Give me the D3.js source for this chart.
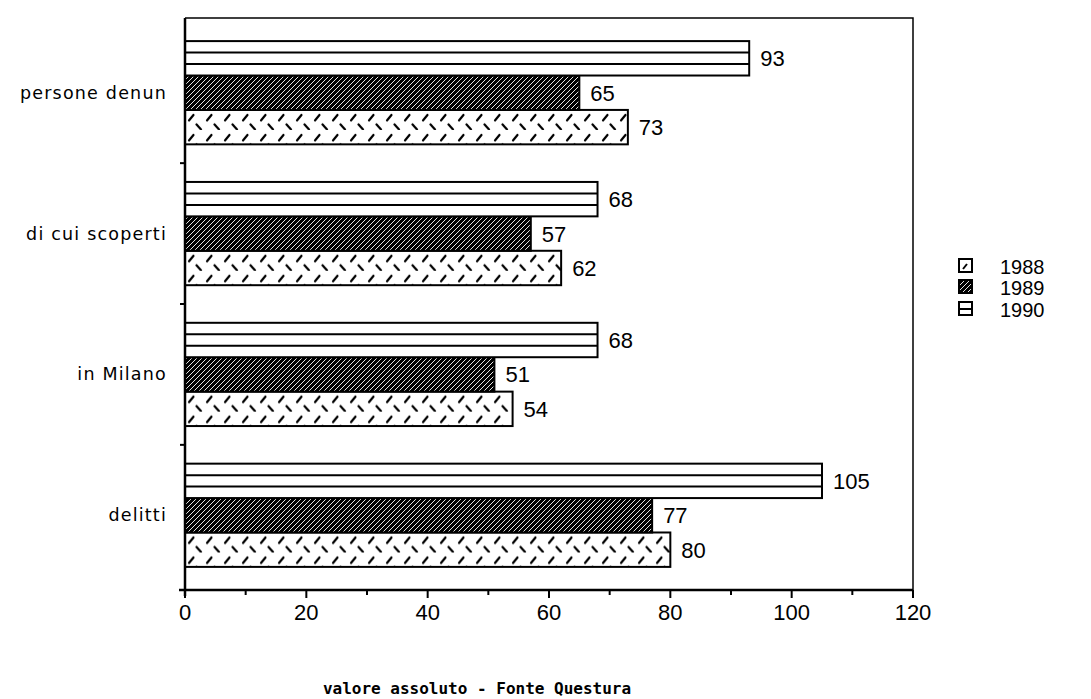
<!DOCTYPE html>
<html>
<head>
<meta charset="utf-8">
<script src="https://cdn.jsdelivr.net/npm/d3@7"></script>
<style>
  html, body { margin: 0; padding: 0; background: #fff; }
  svg { display: block; }
</style>
</head>
<body>
<svg id="chart" width="1091" height="699"></svg>
<script>
// Categories (top to bottom) and the yearly series
const categories = ["persone denun", "di cui scoperti", "in Milano", "delitti"];
const years = ["1988", "1989", "1990"];
const v1988 = [73, 62, 54, 80];
const v1989 = [65, 57, 51, 77];
const v1990 = [93, 68, 68, 105];
const xTicks = [0, 20, 40, 60, 80, 100, 120];
const xMinorTicks = [10, 30, 50, 70, 90, 110];
const titleText = "valore assoluto - Fonte Questura";

const series = { "1988": v1988, "1989": v1989, "1990": v1990 };

const svg = d3.select("#chart");
const defs = svg.append("defs");

const plotLeft = 185, plotRight = 913, plotTop = 18, plotBottom = 590;

const x = d3.scaleLinear().domain([0, 120]).range([plotLeft, plotRight]);
const y = d3.scaleBand().domain(categories).range([plotTop, plotBottom])
  .paddingInner(0.267).paddingOuter(0.164);
// within a group: 1990 on top, 1988 at the bottom
const yInner = d3.scaleBand().domain(["1990", "1989", "1988"]).range([0, y.bandwidth()]);

// dense dark hatching for 1989
const p89 = defs.append("pattern").attr("id", "hatch89")
  .attr("patternUnits", "userSpaceOnUse").attr("width", 5).attr("height", 5);
p89.append("rect").attr("width", 5).attr("height", 5).attr("fill", "#000");
p89.append("path").attr("d", "M-1,6 L6,-1 M-1,1 L1,-1 M4,6 L6,4")
  .attr("stroke", "#fff").attr("stroke-width", 0.9);

const rows = [];
categories.forEach((c, i) => {
  years.forEach(yr => rows.push({ cat: c, year: yr, value: series[yr][i], idx: i }));
});

// herringbone dashes for 1988, one pattern per bar so rows line up with the bar
rows.filter(r => r.year === "1988").forEach(r => {
  const by = y(r.cat) + yInner("1988");
  const p = defs.append("pattern").attr("id", "herr" + r.idx)
    .attr("patternUnits", "userSpaceOnUse")
    .attr("x", x(0)).attr("y", by)
    .attr("width", 18).attr("height", 20);
  p.append("rect").attr("width", 18).attr("height", 20).attr("fill", "#fff");
  p.append("path").attr("d", "M4,10.5 L8.5,5")
    .attr("stroke", "#000").attr("stroke-width", 2.2).attr("stroke-linecap", "round");
  p.append("path").attr("d", "M11.5,14.5 L16,19.5")
    .attr("stroke", "#000").attr("stroke-width", 2.2).attr("stroke-linecap", "round");
});

const fillFor = r => r.year === "1989" ? "url(#hatch89)"
  : r.year === "1988" ? "url(#herr" + r.idx + ")" : "#fff";

const g = svg.append("g");

// bars
g.selectAll("rect.bar").data(rows).join("rect")
  .attr("class", "bar")
  .attr("x", x(0))
  .attr("y", d => y(d.cat) + yInner(d.year))
  .attr("width", d => x(d.value) - x(0))
  .attr("height", yInner.bandwidth())
  .attr("fill", fillFor)
  .attr("stroke", "#000")
  .attr("stroke-width", 2);

// horizontal stripes inside the 1990 bars
const stripes = [];
rows.filter(r => r.year === "1990").forEach(r => {
  [1 / 3, 2 / 3].forEach(f => stripes.push({ r, f }));
});
g.selectAll("line.stripe").data(stripes).join("line")
  .attr("x1", x(0))
  .attr("x2", d => x(d.r.value))
  .attr("y1", d => y(d.r.cat) + yInner("1990") + yInner.bandwidth() * d.f)
  .attr("y2", d => y(d.r.cat) + yInner("1990") + yInner.bandwidth() * d.f)
  .attr("stroke", "#000").attr("stroke-width", 2);

// value labels
g.selectAll("text.val").data(rows).join("text")
  .attr("x", d => x(d.value) + 11)
  .attr("y", d => y(d.cat) + yInner(d.year) + yInner.bandwidth() / 2 + 8)
  .attr("font-family", "Liberation Sans, Arial, sans-serif")
  .attr("font-size", 22)
  .attr("fill", "#000")
  .text(d => d.value);

// frame
svg.append("path")
  .attr("d", `M${plotLeft},${plotTop} H${plotRight} V${plotBottom}`)
  .attr("fill", "none").attr("stroke", "#000").attr("stroke-width", 1.5);
svg.append("line").attr("x1", plotLeft).attr("x2", plotLeft)
  .attr("y1", plotTop).attr("y2", plotBottom + 6)
  .attr("stroke", "#000").attr("stroke-width", 2.5);
svg.append("line").attr("x1", plotLeft - 6).attr("x2", plotRight)
  .attr("y1", plotBottom).attr("y2", plotBottom)
  .attr("stroke", "#000").attr("stroke-width", 2.5);

// group separator ticks on the category axis
const sepY = categories.slice(1).map(c => y(c) - y.step() * y.paddingInner() / 2);
svg.selectAll("line.sep").data(sepY).join("line")
  .attr("x1", plotLeft - 5).attr("x2", plotLeft).attr("y1", d => d).attr("y2", d => d)
  .attr("stroke", "#000").attr("stroke-width", 2);

// category labels
svg.selectAll("text.cat").data(categories).join("text")
  .attr("x", 167)
  .attr("y", d => y(d) + y.bandwidth() / 2 + 6)
  .attr("text-anchor", "end")
  .attr("font-family", "DejaVu Sans, sans-serif")
  .attr("font-size", 17.5)
  .attr("letter-spacing", 1.2)
  .attr("fill", "#000")
  .text(d => d);

// x axis ticks and labels
svg.selectAll("line.xt").data(xTicks).join("line")
  .attr("x1", d => x(d)).attr("x2", d => x(d))
  .attr("y1", plotBottom).attr("y2", plotBottom + 8)
  .attr("stroke", "#000").attr("stroke-width", 2);
svg.selectAll("line.xm").data(xMinorTicks).join("line")
  .attr("x1", d => x(d)).attr("x2", d => x(d))
  .attr("y1", plotBottom).attr("y2", plotBottom + 5)
  .attr("stroke", "#000").attr("stroke-width", 2);
svg.selectAll("text.xl").data(xTicks).join("text")
  .attr("x", d => x(d))
  .attr("y", 620)
  .attr("text-anchor", "middle")
  .attr("font-family", "Liberation Sans, Arial, sans-serif")
  .attr("font-size", 22)
  .attr("fill", "#000")
  .text(d => d);

// title below the axis
svg.append("text")
  .attr("x", 477).attr("y", 694)
  .attr("text-anchor", "middle")
  .attr("font-family", "DejaVu Sans Mono, monospace")
  .attr("font-weight", "bold")
  .attr("font-size", 16)
  .attr("fill", "#000")
  .text(titleText);

// legend
const legendY = { "1988": 266, "1989": 287, "1990": 309 };
const legFill = { "1988": "#fff", "1989": "url(#hatch89)", "1990": "#fff" };
const leg = svg.append("g");
years.forEach(yr => {
  const cy = legendY[yr];
  leg.append("rect").attr("x", 959).attr("y", cy - 7).attr("width", 13).attr("height", 13)
    .attr("fill", legFill[yr]).attr("stroke", "#000").attr("stroke-width", 2);
  if (yr === "1988") {
    leg.append("path").attr("d", `M963,${cy + 3} L967,${cy - 2}`)
      .attr("stroke", "#000").attr("stroke-width", 2);
  }
  if (yr === "1990") {
    leg.append("line").attr("x1", 959).attr("x2", 972).attr("y1", cy).attr("y2", cy)
      .attr("stroke", "#000").attr("stroke-width", 2);
  }
  leg.append("text").attr("x", 1000).attr("y", cy + 8)
    .attr("font-family", "Liberation Sans, Arial, sans-serif")
    .attr("font-size", 20).attr("fill", "#000").text(yr);
});
</script>
</body>
</html>
